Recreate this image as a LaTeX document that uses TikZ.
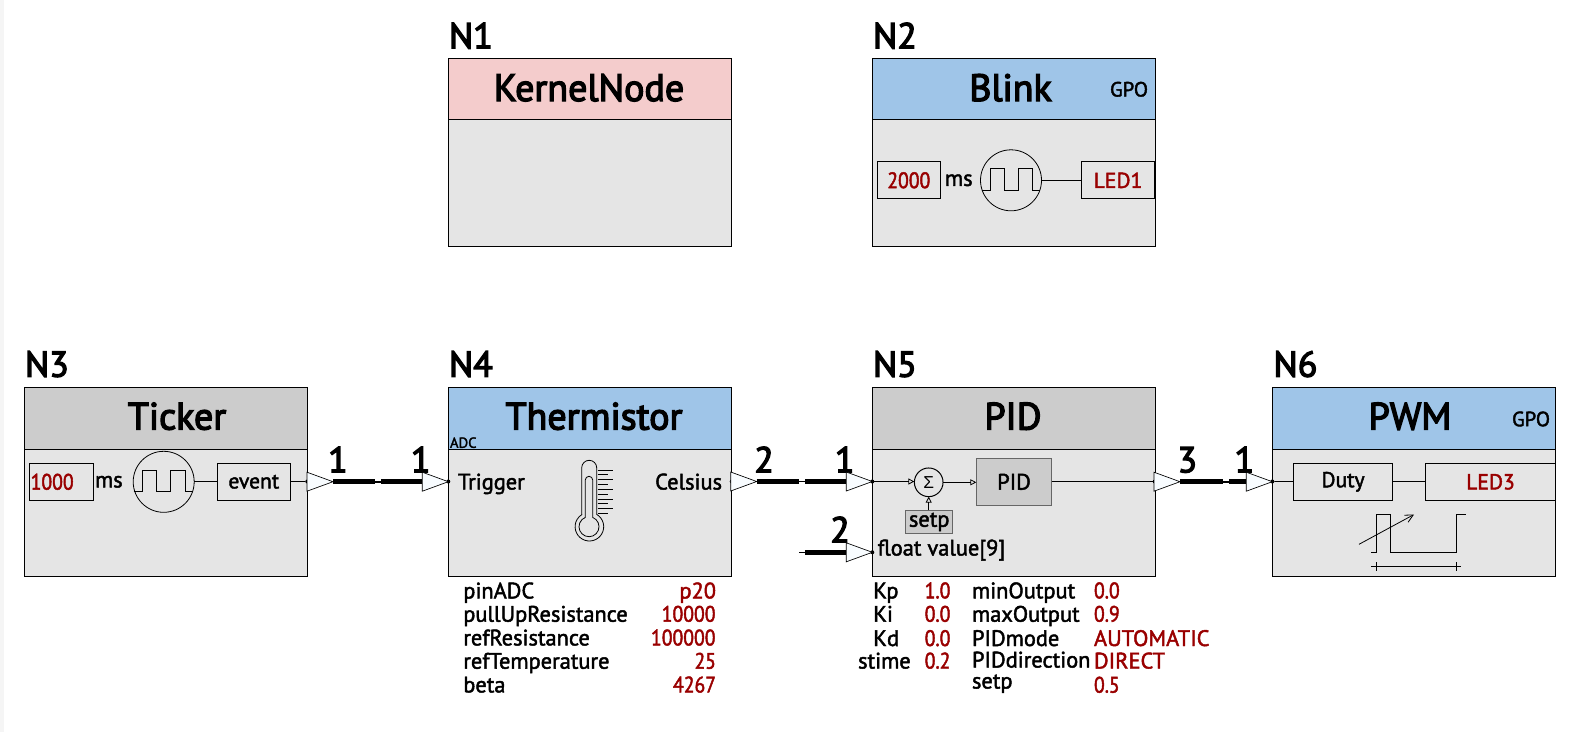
\documentclass[tikz,border=0pt]{standalone}
\usepackage{fontspec}
\setmainfont{PT Sans}[FakeBold=2]
\newfontfamily\titlefont{PT Sans}[FakeBold=3.5]
\newfontfamily\numfont{PT Sans}[FakeBold=2, FakeStretch=0.88]
\newfontfamily\symfont{Liberation Sans}
\usetikzlibrary{positioning, arrows.meta, shapes.geometric}
\definecolor{hdrblue}{HTML}{9FC5E8}
\definecolor{hdrgrey}{HTML}{CCCCCC}
\definecolor{hdrpink}{HTML}{F4CCCC}
\definecolor{bodygrey}{HTML}{E5E5E5}
\definecolor{valred}{HTML}{990000}
\definecolor{pinfill}{HTML}{F8FCFF}
\definecolor{stripe}{HTML}{F5F5F5}

\begin{document}
\begin{tikzpicture}[
        x=0.75pt, y=-0.75pt,
        every node/.style={inner sep=0pt, outer sep=0pt},
        head/.style={rectangle, draw, line width=0.75pt, minimum width=212.5pt, anchor=north west},
        headtop/.style={head, minimum height=46pt},
        headlow/.style={head, minimum height=46.5pt},
        bodybox/.style={rectangle, draw, line width=0.75pt, fill=bodygrey, minimum width=212.5pt, minimum height=95.25pt},
        title/.style={font=\titlefont\fontsize{28.5}{30}\selectfont, anchor=base},
        nlabel/.style={font=\titlefont\fontsize{27}{28}\selectfont, anchor=base west},
        wirenum/.style={font=\titlefont\fontsize{27}{28}\selectfont, anchor=base},
        tag/.style={font=\fontsize{15.5}{16}\selectfont},
        txt/.style={font=\fontsize{16.8}{18}\selectfont},
        par/.style={txt, anchor=base west},
        val/.style={par, text=valred},
        num/.style={val, font=\numfont\fontsize{16.8}{18}\selectfont},
        valr/.style={txt, anchor=base east, text=valred},
        numr/.style={valr, font=\numfont\fontsize{16.8}{18}\selectfont},
        inbox/.style={rectangle, draw, line width=0.6pt, font=\fontsize{16.2}{18}\selectfont, minimum height=27.75pt},
        numbox/.style={inbox, text=valred, font=\numfont\fontsize{16.8}{18}\selectfont},
        greybox/.style={rectangle, draw=black!60, line width=0.75pt, fill=hdrgrey, txt},
        clock/.style={circle, draw, line width=0.6pt, minimum size=45.75pt},
        pintri/.style={isosceles triangle, isosceles triangle stretches, draw, line width=0.5pt, fill=pinfill,
            minimum width=14.25pt, minimum height=19.5pt, anchor=apex},
        pindot/.style={circle, fill=black, minimum size=3pt},
        wire/.style={line width=3.75pt},
        gapline/.style={line width=1.2pt},
        thinline/.style={line width=0.6pt},
        flow/.style={thinline, -{Triangle[open, length=4.5pt, width=4.5pt]}},
        ]
        \path[use as bounding box] (0,0) rectangle (1570,732);
        \fill[stripe] (0,0) rectangle (4,732);

        % KernelNode
        \node[headtop, fill=hdrpink] (kernel) at (448.3,58.3) {};
        \node[bodybox, below=0pt of kernel] (kernelbody) {};
        \node[nlabel] (n1) at (449,48.3) {N1};
        \node[title] (kerneltitle) at (589,101) {KernelNode};

        % Blink
        \node[headtop, fill=hdrblue] (blink) at (872.3,58.3) {};
        \node[bodybox, below=0pt of blink] (blinkbody) {};
        \node[nlabel] (n2) at (873,48.3) {N2};
        \node[title] (blinktitle) at (1010.5,101) {Blink};
        \node[tag] (blinkgpo) at (1129,89.3) {GPO};
        \node[numbox, minimum width=47.25pt] (blinktime) at (908.8,180.3) {2000};
        \node[txt, right=3.5pt of blinktime] (blinkms) {ms};
        \node[clock] (blinkclock) at (1011,180.3) {};
        \node[inbox, minimum width=55pt, text=valred] (led1) at (1118,180.3) {LED1};
        \draw[thinline] (blinkclock) -- (led1);
        \draw[thinline] (981.7,190.3) -| (990.7,168.7) -| (1004.7,190.3) -| (1018.7,168.7) -| (1032.7,190.3) -- (1040,190.3);

        % Ticker
        \node[headlow, fill=hdrgrey] (ticker) at (24.3,387.3) {};
        \node[bodybox, below=0pt of ticker] (tickerbody) {};
        \node[nlabel] (n3) at (25,376.7) {N3};
        \node[title] (tickertitle) at (177,429.5) {Ticker};
        \node[numbox, minimum width=48.3pt] (tickertime) at (61.5,481.8) {1000\hspace*{14pt}};
        \node[txt, right=1pt of tickertime] (tickerms) {ms};
        \node[clock] (tickerclock) at (163.7,481.8) {};
        \node[inbox, minimum width=54.75pt] (event) at (253.8,481.8) {event};
        \node[pindot] (tickerpin) at (307.3,481.5) {};
        \draw[thinline] (tickerclock) -- (event);
        \draw[thinline] (event) -- (tickerpin);
        \draw[thinline] (133.7,491.7) -| (142.3,470.3) -| (156.7,491.7) -| (170.7,470.3) -| (185.7,491.7) -- (192.7,491.7);

        % Thermistor
        \node[headlow, fill=hdrblue] (therm) at (448.3,387.3) {};
        \node[bodybox, below=0pt of therm] (thermbody) {};
        \node[nlabel] (n4) at (449,376.7) {N4};
        \node[title] (thermtitle) at (594,429.5) {Thermistor};
        \node[font=\fontsize{11}{12}\selectfont, anchor=west] (adc) at (450,442.7) {ADC};
        \node[txt, anchor=base west] (trigger) at (458,489.5) {Trigger};
        \node[txt, anchor=base east] (celsius) at (722,489.5) {Celsius};
        \node[pindot] (trigpin) at (448.3,481.5) {};
        \node[pindot] (celspin) at (731.7,481.5) {};
        % thermometer
        \draw[thinline] (581.7,514.4) -- (581.7,467.8) arc[start angle=180, end angle=360, radius=7.5]
            -- (596.7,514.4) arc[start angle=300.7, end angle=599.3, radius=14.3];
        \draw[thinline] (585.3,517.4) -- (585.3,480) arc[start angle=180, end angle=360, radius=3.7]
            -- (592.7,517.4) arc[start angle=291.7, end angle=608.3, radius=10];
        \foreach \yy in {470,479.7,489.3,499,508.6}
            \draw[thinline] (597.7,\yy) -- (612.7,\yy);
        \foreach \yy in {474.8,484.5,494.1,503.8,513.4}
            \draw[thinline] (597.7,\yy) -- (608.3,\yy);
        % params
        \node[par] (ppin) at (463.3,598.4) {pinADC};
        \node[par] (ppull) at (463.3,621.7) {pullUpResistance};
        \node[par] (pref) at (463.3,645.4) {refResistance};
        \node[par] (ptemp) at (463.3,668.7) {refTemperature};
        \node[par] (pbeta) at (463.3,692.4) {beta};
        \node[valr] (vpin) at (716,598.4) {p20};
        \node[numr] (vpull) at (715.5,621.7) {10000};
        \node[numr] (vref) at (715.5,645.4) {100000};
        \node[numr] (vtemp) at (716,668.7) {25};
        \node[numr] (vbeta) at (716,692.4) {4267};

        % PID
        \node[headlow, fill=hdrgrey] (pid) at (872.3,387.3) {};
        \node[bodybox, below=0pt of pid] (pidbody) {};
        \node[nlabel] (n5) at (873,376.7) {N5};
        \node[title] (pidtitle) at (1013,429.5) {PID};
        \node[pindot] (pidin) at (872.3,481.5) {};
        \node[pindot] (pidval) at (872.3,552.3) {};
        \node[pindot] (pidout) at (1154.7,481.5) {};
        \node[circle, draw, line width=0.75pt, minimum size=21.5pt, font=\symfont\fontsize{13}{14}\selectfont] (sum) at (928.7,482.3) {Σ};
        \node[greybox, minimum width=56.5pt, minimum height=35.25pt] (pidblock) at (1014,481.8) {PID};
        \node[greybox, minimum width=35.25pt, minimum height=17.5pt] (setpbox) at (929.2,522) {setp};
        \node[txt, anchor=base west] (floatval) at (877.7,555.5) {float value[9]};
        \draw[flow] (pidin) -- (sum.west |- pidin);
        \draw[flow] (sum) -- (pidblock.west |- sum);
        \draw[flow] (setpbox.north -| sum) -- (sum);
        \draw[thinline] (pidblock.east |- pidout) -- (pidout);
        % params
        \node[par] (pkp) at (873.3,598.3) {Kp};
        \node[par] (pki) at (873.3,621.7) {Ki};
        \node[par] (pkd) at (873.3,646) {Kd};
        \node[txt, anchor=base east] (pst) at (910.7,668.5) {stime};
        \node[num] (vkp) at (924.7,598.3) {1.0};
        \node[num] (vki) at (924.7,621.7) {0.0};
        \node[num] (vkd) at (924.7,646) {0.0};
        \node[num] (vst) at (924.7,668.5) {0.2};
        \node[par] (pmin) at (972,598.3) {minOutput};
        \node[par] (pmax) at (972,621.7) {maxOutput};
        \node[par] (pmode) at (972,646) {PIDmode};
        \node[par] (pdir) at (972,667.5) {PIDdirection};
        \node[par] (pset) at (972,688.5) {setp};
        \node[num] (vmin) at (1094,598.3) {0.0};
        \node[num] (vmax) at (1094,621.7) {0.9};
        \node[val] (vmode) at (1094,646) {AUTOMATIC};
        \node[val] (vdir) at (1094,668.5) {DIRECT};
        \node[num] (vset) at (1094,692.6) {0.5};

        % PWM
        \node[headlow, fill=hdrblue] (pwm) at (1272.3,387.3) {};
        \node[bodybox, below=0pt of pwm] (pwmbody) {};
        \node[nlabel] (n6) at (1273.5,376.7) {N6};
        \node[title] (pwmtitle) at (1410,429.5) {PWM};
        \node[tag] (pwmgpo) at (1531,419) {GPO};
        \node[pindot] (pwmin) at (1272.3,481.5) {};
        \node[inbox, minimum width=74.5pt] (duty) at (1343,481.8) {Duty};
        \node[inbox, minimum width=97.8pt, text=valred] (led3) at (1490.5,481.8) {LED3};
        \draw[thinline] (pwmin) -- (duty);
        \draw[thinline] (duty) -- (led3);
        \draw[thinline] (1371,552) -| (1376.3,514.3) -| (1390,552) -| (1456.3,514.3) -- (1465.7,514.3);
        \draw[thinline, -{Straight Barb[length=6pt, width=6pt]}] (1359,544.3) -- (1414,514.5);
        \draw[thinline] (1371,566.7) -- (1460.7,566.7);
        \draw[thinline] (1376.3,562) -- (1376.3,571.4);
        \draw[thinline] (1456.3,562) -- (1456.3,571.4);

        % Link Ticker -> Thermistor
        \node[wirenum] (num1a) at (338,472.3) {1};
        \node[wirenum] (num1b) at (420.7,472.3) {1};
        \node[pintri] (out1) at (333,481.7) {};
        \node[pintri] (in1) at (448.3,481.7) {};
        \coordinate (gap1a) at (375,481.7);
        \coordinate (gap1b) at (381,481.7);
        \draw[wire] (out1.apex) -- (gap1a);
        \draw[gapline] (gap1a) -- (gap1b);
        \draw[wire] (gap1b) -- (in1.west);

        % Link Thermistor -> PID
        \node[wirenum] (num2a) at (764,472.3) {2};
        \node[wirenum] (num2b) at (844.7,472.3) {1};
        \node[pintri] (out2) at (756.7,481.5) {};
        \node[pintri] (in2) at (872.3,481.5) {};
        \coordinate (gap2a) at (799.3,481.5);
        \coordinate (gap2b) at (805,481.5);
        \draw[wire] (out2.apex) -- (gap2a);
        \draw[gapline] (gap2a) -- (gap2b);
        \draw[wire] (gap2b) -- (in2.west);

        % Free input of PID
        \node[wirenum] (num3) at (840,542.3) {2};
        \node[pintri] (in3) at (872.3,552.3) {};
        \coordinate (gap3a) at (799.3,552.3);
        \coordinate (gap3b) at (805,552.3);
        \draw[gapline] (gap3a) -- (gap3b);
        \draw[wire] (gap3b) -- (in3.west);

        % Link PID -> PWM
        \node[wirenum] (num4a) at (1187.3,472.3) {3};
        \node[wirenum] (num4b) at (1244.3,472.3) {1};
        \node[pintri] (out4) at (1180,481.7) {};
        \node[pintri] (in4) at (1272.3,481.7) {};
        \coordinate (gap4a) at (1222.7,481.7);
        \coordinate (gap4b) at (1229.3,481.7);
        \draw[wire] (out4.apex) -- (gap4a);
        \draw[gapline] (gap4a) -- (gap4b);
        \draw[wire] (gap4b) -- (in4.west);
    \end{tikzpicture}
\end{document}
